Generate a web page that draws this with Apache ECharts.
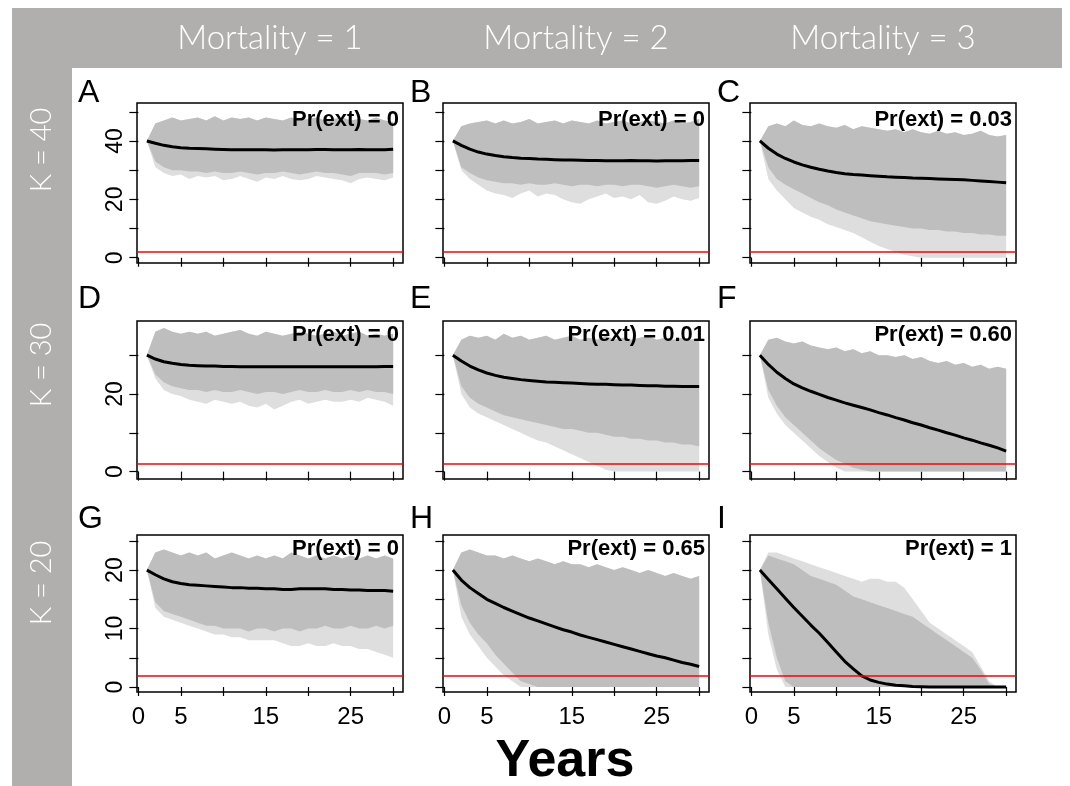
<!DOCTYPE html>
<html>
<head>
<meta charset="utf-8">
<script src="https://cdn.jsdelivr.net/npm/echarts@6/dist/echarts.min.js"></script>
<style>
  html, body { margin: 0; padding: 0; background: #fff; }
  #container { width: 1070px; height: 786px; }
</style>
</head>
<body>
<div id="container"></div>
<script>
// years of simulation
var years = [1, 2, 3, 4, 5, 6, 7, 8, 9, 10, 11, 12, 13, 14, 15, 16, 17, 18, 19, 20, 21, 22, 23, 24, 25, 26, 27, 28, 29, 30];

var mortalityLabels = ['Mortality = 1', 'Mortality = 2', 'Mortality = 3'];
var kLabels = ['K = 40', 'K = 30', 'K = 20'];
var panelLetters = ['A', 'B', 'C', 'D', 'E', 'F', 'G', 'H', 'I'];
var prExt = ['0', '0', '0.03', '0', '0.01', '0.60', '0', '0.65', '1'];
var extThreshold = 2;

// tick values / labels
var xTicks = [0, 5, 10, 15, 20, 25, 30];
var xTickLabels = [0, 5, 15, 25];
var yTicksK40 = [0, 10, 20, 30, 40, 50];
var yLabelsK40 = [0, 20, 40];
var yTicksK30 = [0, 10, 20, 30];
var yLabelsK30 = [0, 20];
var yTicksK20 = [0, 5, 10, 15, 20, 25];
var yLabelsK20 = [0, 10, 20];

// mean trajectories
var meanA = [40, 39.2, 38.5, 38, 37.7, 37.5, 37.4, 37.3, 37.2, 37.1, 37, 37, 37, 37, 37, 36.9, 37, 37, 37, 37, 37.1, 37.1, 37, 37, 37, 37.1, 37, 37, 37, 37.2];
var meanB = [40, 38.5, 37.2, 36.2, 35.5, 35, 34.6, 34.3, 34.1, 34, 33.8, 33.7, 33.6, 33.5, 33.5, 33.4, 33.3, 33.3, 33.2, 33.2, 33.2, 33.3, 33.2, 33.2, 33.1, 33.2, 33.2, 33.2, 33.3, 33.3];
var meanC = [40, 37.5, 35.5, 34, 32.8, 31.8, 31, 30.3, 29.7, 29.2, 28.8, 28.5, 28.3, 28.1, 27.9, 27.7, 27.6, 27.5, 27.3, 27.2, 27.1, 27, 26.9, 26.8, 26.7, 26.5, 26.3, 26.1, 25.9, 25.7];
var meanD = [30, 29, 28.3, 27.9, 27.6, 27.4, 27.3, 27.2, 27.2, 27.1, 27.1, 27, 27, 27, 27, 27, 27, 27, 27, 27, 27, 27, 27, 27, 27, 27, 27, 27, 27.1, 27.1];
var meanE = [30, 28.5, 27.2, 26.2, 25.4, 24.8, 24.3, 24, 23.7, 23.5, 23.3, 23.1, 23, 22.9, 22.8, 22.7, 22.6, 22.5, 22.5, 22.4, 22.3, 22.3, 22.2, 22.1, 22.1, 22, 22, 21.9, 21.9, 21.9];
var meanF = [30, 27.6, 25.6, 24, 22.6, 21.6, 20.7, 19.9, 19.1, 18.4, 17.7, 17.1, 16.5, 15.9, 15.2, 14.6, 13.9, 13.3, 12.6, 12.0, 11.3, 10.7, 10.0, 9.4, 8.7, 8.1, 7.4, 6.8, 6.1, 5.3];
var meanG = [20, 19.2, 18.5, 18, 17.7, 17.5, 17.4, 17.3, 17.2, 17.1, 17, 17, 16.9, 16.9, 16.8, 16.8, 16.7, 16.7, 16.8, 16.8, 16.8, 16.8, 16.7, 16.7, 16.6, 16.6, 16.5, 16.5, 16.5, 16.4];
var meanH = [20, 18.3, 17, 16, 15, 14.3, 13.6, 13, 12.4, 11.8, 11.3, 10.8, 10.3, 9.8, 9.4, 8.9, 8.5, 8.1, 7.7, 7.3, 6.9, 6.5, 6.1, 5.7, 5.3, 5, 4.6, 4.2, 3.9, 3.5];
var meanI = [20, 18.4, 16.8, 15.2, 13.6, 12.1, 10.6, 9.2, 7.6, 6.0, 4.4, 3.1, 1.9, 1.2, 0.8, 0.5, 0.3, 0.2, 0.1, 0.05, 0, 0, 0, 0, 0, 0, 0, 0, 0, 0];

// upper edge of the simulated runs
var hiA = [40, 46, 47, 48, 47, 47.5, 48, 47, 48.5, 47, 48, 47.5, 48, 47, 48, 47.5, 47, 48, 47, 47.5, 48, 47, 47.5, 48, 47, 47.5, 47, 48, 47, 46.5];
var hiB = [40, 45, 46, 46.5, 47, 46, 47, 46, 46.5, 47.5, 46, 46.5, 47, 46, 47, 46.5, 46, 47, 46, 46.5, 47, 46, 46.5, 47, 46.5, 46, 47, 46, 46.5, 47.5];
var hiC = [40, 45, 46, 45, 47, 45.5, 45, 46, 45, 44.5, 45.5, 44, 45, 44.5, 44, 43.5, 44, 43, 44, 43, 42.5, 43.5, 42.5, 43, 42, 42.5, 43.5, 42, 41.5, 42];
var hiD = [30, 36, 37, 36, 35.5, 36, 35.5, 36, 35, 35.5, 36, 36.5, 35.5, 35, 36, 35.5, 35, 35.5, 36, 35.5, 35, 35.5, 36, 35, 35.5, 36, 35, 35.5, 35, 35.5];
var hiE = [30, 34, 35, 34.5, 35, 34, 35.5, 34.5, 35, 34, 34.5, 35, 34, 34.5, 35, 34, 34.5, 34, 35, 34, 34.5, 34, 34.5, 35, 34, 34.5, 34, 34.5, 34, 34.5];
var hiF = [30, 34, 34.5, 33.5, 33, 33.5, 32.5, 32, 31.5, 32, 31, 31.5, 30.5, 31, 30, 30, 29.5, 30, 29, 29.5, 28.5, 28, 28.5, 27.5, 28, 27, 27.5, 26.5, 27, 26.5];
var hiG = [20, 23, 23.5, 23, 22.5, 23, 22.5, 23, 22, 22.5, 23, 22.5, 22, 22.5, 22, 22.5, 22, 23, 22.5, 22, 22.5, 22, 22.5, 22, 22.5, 22, 22.5, 22, 22.5, 22];
var hiH = [20, 23, 23.5, 23, 22.5, 22.5, 22, 22.5, 22, 21.5, 22, 21.5, 21, 21.5, 21, 21, 20.5, 21, 20.5, 20, 20.5, 20, 19.5, 20, 19.5, 19, 19.5, 19, 18.5, 19];
var hiI = [20, 22.5, 22, 21.5, 21, 20, 19, 18.5, 18, 17.5, 16.5, 15.5, 15, 14.5, 14, 13.5, 13, 12.5, 12, 11, 10, 9, 8, 7, 6, 5, 3, 0.5, 0, 0];
var hiTailI = [20, 23, 23, 22.5, 22, 21.5, 21, 20.5, 20, 19.5, 19, 18.5, 18, 18.5, 18.5, 18, 18, 17, 15, 13, 11, 10, 9, 8, 7, 6, 3.5, 1, 0, 0];

// lower edge of the dense bulk of runs
var loA = [40, 33, 31, 30, 30, 29.5, 29.5, 29, 29.5, 29, 29, 29.5, 29, 28.5, 29, 29, 29.5, 29, 28.5, 29, 29.5, 29, 29, 28.5, 28, 29, 29, 29, 28.5, 29];
var loB = [40, 31, 29, 27.5, 26.5, 26, 25.5, 25.5, 25, 25.5, 25, 25, 25.5, 25, 24.5, 25, 25, 24.5, 25, 25, 24.5, 25, 25, 24.5, 24, 24.5, 25, 24.5, 24, 24.5];
var loC = [40, 31, 27, 25, 23.5, 22, 20.5, 19, 18, 16.5, 15.5, 14.5, 13.5, 12.5, 12, 11.5, 11, 10.5, 10, 10, 9.5, 9.5, 9, 9, 8.5, 8.5, 8, 8, 7.5, 7.5];
var loD = [30, 25, 23, 22, 21.5, 21, 21, 20.5, 21, 20.5, 20.5, 21, 20.5, 20, 20.5, 20.5, 20, 20.5, 21, 20.5, 20.5, 21, 20.5, 20.5, 21, 20.5, 21, 20.5, 20.5, 20];
var loE = [30, 22, 19, 17.5, 16.5, 15.5, 14.5, 14, 13.5, 13, 12.5, 12, 11.5, 11, 11, 10.5, 10, 10, 9.5, 9, 9, 8.5, 8.5, 8, 8, 7.5, 7.5, 7, 7, 6.5];
var loF = [30, 21, 17, 14, 12, 10, 8, 6, 4.5, 3, 2, 1, 0.5, 0, 0, 0, 0, 0, 0, 0, 0, 0, 0, 0, 0, 0, 0, 0, 0, 0];
var loG = [20, 14.5, 13, 12.5, 12, 11.5, 11, 10.5, 10.5, 10, 10, 10, 9.5, 10, 10, 9.5, 10, 10, 9.5, 10, 10, 10.5, 10, 10, 10.5, 10, 10, 10.5, 10, 10.5];
var loH = [20, 14, 11, 9, 7.5, 5.5, 4, 2.5, 1, 0.5, 0, 0, 0, 0, 0, 0, 0, 0, 0, 0, 0, 0, 0, 0, 0, 0, 0, 0, 0, 0];
var loI = [20, 11, 5, 1, 0, 0, 0, 0, 0, 0, 0, 0, 0, 0, 0, 0, 0, 0, 0, 0, 0, 0, 0, 0, 0, 0, 0, 0, 0, 0];

// lowest stray runs
var tailA = [40, 31, 29, 28, 28.5, 27, 28, 27.5, 28, 26.5, 27, 28, 27, 26, 27.5, 27, 28, 27, 26.5, 27, 28, 27.5, 27, 26.5, 25.5, 27, 27.5, 27, 26.5, 27.5];
var tailB = [40, 30, 27, 25, 23, 22, 21.5, 20.5, 22, 23, 21, 22, 21.5, 20, 19, 18.5, 20, 21, 22, 20.5, 21, 20, 21.5, 19, 18.5, 19.5, 21, 20, 19.5, 20.5];
var tailC = [40, 27, 23, 20, 17, 15.5, 14, 13, 11.5, 10.5, 9.5, 8.5, 7, 5.5, 4, 3, 2, 1, 0.5, 0, 0, 0, 0, 0, 0, 0, 0, 0, 0, 0];
var tailD = [30, 24, 21, 20, 19.5, 18.5, 18, 17.5, 18.5, 18, 17.5, 18, 17, 16.5, 17.5, 16, 17, 18, 18.5, 17.5, 18, 18.5, 18, 18, 18.5, 18, 19, 18.5, 18, 17];
var tailE = [30, 20, 16.5, 15, 14, 13, 12, 11, 10, 9, 8, 7.5, 6.5, 5.5, 4.5, 3.5, 2.5, 1.5, 0.5, 0, 0, 0, 0, 0, 0, 0, 0, 0, 0, 0];
var tailF = [30, 19, 15, 12, 10, 8, 6, 4, 2.5, 1, 0, 0, 0, 0, 0, 0, 0, 0, 0, 0, 0, 0, 0, 0, 0, 0, 0, 0, 0, 0];
var tailG = [20, 13.5, 12, 11.5, 11, 10.5, 10, 9.5, 9, 9, 8.5, 8.5, 8, 8, 8, 8, 7.5, 7, 7, 7.5, 7, 7, 7.5, 7, 7, 6.5, 6.5, 6, 5.5, 5];
var tailH = [20, 12, 9, 7, 5, 3.5, 2, 1, 0, 0, 0, 0, 0, 0, 0, 0, 0, 0, 0, 0, 0, 0, 0, 0, 0, 0, 0, 0, 0, 0];
var tailI = [20, 9, 3, 0, 0, 0, 0, 0, 0, 0, 0, 0, 0, 0, 0, 0, 0, 0, 0, 0, 0, 0, 0, 0, 0, 0, 0, 0, 0, 0];

var means = [meanA, meanB, meanC, meanD, meanE, meanF, meanG, meanH, meanI];
var his = [hiA, hiB, hiC, hiD, hiE, hiF, hiG, hiH, hiI];
var tailHis = [hiA, hiB, hiC, hiD, hiE, hiF, hiG, hiH, hiTailI];
var los = [loA, loB, loC, loD, loE, loF, loG, loH, loI];
var tails = [tailA, tailB, tailC, tailD, tailE, tailF, tailG, tailH, tailI];
var yTicks = [yTicksK40, yTicksK30, yTicksK20];
var yLabels = [yLabelsK40, yLabelsK30, yLabelsK20];

// layout
var colLeft = [137, 443, 750];
var letterX = [78, 410, 717];
var plotW = 266;
var rowTop = [103, 321, 535];
var rowH = [160, 158, 157];
var yMin = [-1.8, -1.9, -0.85];
var yMax = [53, 38.8, 26];
var letterY = [93, 299, 519];
var prY = [120, 335, 549];
var kLabelY = [150, 365, 583];
var gray = '#b0afad';
var cloud = '#bebebe';
var axisFont = 'Liberation Sans, Arial, sans-serif';

function bandRenderer(upper, lower, color, opacity) {
    return function (params, api) {
        if (params.dataIndex !== 0) return null;
        var pts = [];
        for (var i = 0; i < years.length; i++) pts.push(api.coord([years[i], upper[i]]));
        for (var j = years.length - 1; j >= 0; j--) pts.push(api.coord([years[j], lower[j]]));
        return { type: 'polygon', shape: { points: pts }, style: { fill: color, opacity: opacity } };
    };
}

var dom = document.getElementById('container');
var myChart = echarts.init(dom, null, { renderer: 'canvas' });

var grids = [], xAxes = [], yAxes = [], series = [];
var graphics = [
    { type: 'rect', left: 12, top: 8, z: 0, shape: { width: 1050, height: 60 }, style: { fill: gray }, silent: true },
    { type: 'rect', left: 12, top: 8, z: 0, shape: { width: 60, height: 778 }, style: { fill: gray }, silent: true }
];

for (var p = 0; p < 9; p++) {
    var r = Math.floor(p / 3), c = p % 3;
    grids.push({
        left: colLeft[c], top: rowTop[r], width: plotW, height: rowH[r],
        show: true, borderColor: '#000', borderWidth: 1.5, containLabel: false
    });
    xAxes.push({
        gridIndex: p, type: 'value', min: -0.16, max: 31.16,
        axisLine: { show: false },
        splitLine: { show: false },
        axisTick: { show: true, inside: false, length: 9, customValues: xTicks, lineStyle: { color: '#000', width: 1.2 } },
        axisLabel: {
            show: r === 2, customValues: xTickLabels, margin: 13,
            color: '#000', fontSize: 24, fontFamily: axisFont
        }
    });
    yAxes.push({
        gridIndex: p, type: 'value', min: yMin[r], max: yMax[r],
        axisLine: { show: false },
        splitLine: { show: false },
        axisTick: { show: true, inside: false, length: 9, customValues: yTicks[r], lineStyle: { color: '#000', width: 1.2 } },
        axisLabel: {
            show: c === 0, customValues: yLabels[r], rotate: 90, margin: 10,
            color: '#000', fontSize: 23, fontFamily: axisFont
        }
    });
    series.push({
        type: 'custom', xAxisIndex: p, yAxisIndex: p, silent: true, z: 1,
        data: [[years[0], means[p][0]]],
        renderItem: bandRenderer(tailHis[p], tails[p], cloud, 0.5)
    });
    series.push({
        type: 'custom', xAxisIndex: p, yAxisIndex: p, silent: true, z: 2,
        data: [[years[0], means[p][0]]],
        renderItem: bandRenderer(his[p], los[p], cloud, 1)
    });
    series.push({
        type: 'line', xAxisIndex: p, yAxisIndex: p, silent: true, z: 4,
        data: years.map(function (y, i) { return [y, means[p][i]]; }),
        showSymbol: false, symbol: 'none',
        lineStyle: { color: '#000', width: 3 },
        markLine: {
            silent: true, symbol: ['none', 'none'], label: { show: false },
            lineStyle: { color: '#ff0000', width: 1.6, type: 'solid' },
            data: [{ yAxis: extThreshold }]
        }
    });
    graphics.push({
        type: 'text', x: letterX[c], y: letterY[r], z: 50, silent: true,
        style: { text: panelLetters[p], fill: '#000', font: '32px Liberation Sans, Arial, sans-serif', align: 'left', verticalAlign: 'middle' }
    });
    graphics.push({
        type: 'text', x: colLeft[c] + plotW - 4, y: prY[r], z: 50, silent: true,
        style: { text: 'Pr(ext) = ' + prExt[p], fill: '#000', font: 'bold 22px Liberation Sans, Arial, sans-serif', align: 'right', verticalAlign: 'middle' }
    });
}

for (var k = 0; k < 3; k++) {
    graphics.push({
        type: 'text', x: colLeft[k] + plotW / 2, y: 38, z: 50, silent: true,
        style: { text: mortalityLabels[k], fill: '#fff', font: '300 33px Lato, Open Sans, sans-serif', align: 'center', verticalAlign: 'middle' }
    });
    graphics.push({
        type: 'text', x: 42, y: kLabelY[k], rotation: Math.PI / 2, z: 50, silent: true,
        style: { text: kLabels[k], fill: '#fff', font: '300 29px Lato, Open Sans, sans-serif', align: 'center', verticalAlign: 'middle' }
    });
}
graphics.push({
    type: 'text', x: 565, y: 762, z: 50, silent: true,
    style: { text: 'Years', fill: '#000', font: 'bold 52px Liberation Sans, Arial, sans-serif', align: 'center', verticalAlign: 'middle' }
});

var option = {
    animation: false,
    backgroundColor: '#fff',
    grid: grids,
    xAxis: xAxes,
    yAxis: yAxes,
    series: series,
    graphic: graphics
};
myChart.setOption(option, true);
</script>
</body>
</html>
